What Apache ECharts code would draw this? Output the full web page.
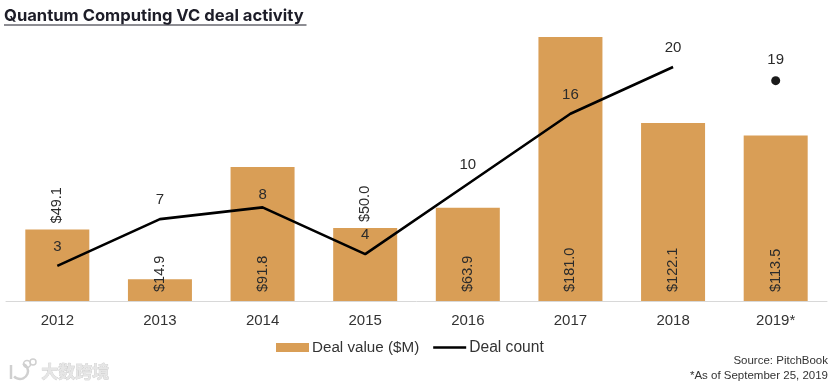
<!DOCTYPE html>
<html><head><meta charset="utf-8">
<style>html,body{margin:0;padding:0;background:#fff}#c{width:834px;height:387px}</style>
<script src="https://cdn.jsdelivr.net/npm/echarts@6/dist/echarts.min.js"></script>
</head><body><div id="c"></div>
<script>
const categories = ['2012','2013','2014','2015','2016','2017','2018','2019*'];
const dealValue = [49.1,14.9,91.8,50.0,63.9,181.0,122.1,113.5];
const dealCount = [3,7,8,4,10,16,20,null];
const dealCount2019 = [null,null,null,null,null,null,null,19];
const labelAboveBar = ['2012','2015'];
const FONT = '"Liberation Sans", Arial, sans-serif';
const chart = echarts.init(document.getElementById('c'), null, {renderer:'canvas'});
const barLabelBase = {show:true, rotate:90, align:'left', verticalAlign:'middle', fontFamily:FONT, fontSize:14.5, color:'#2b2b2b',
  formatter:p=>'$'+p.value.toFixed(1)};
chart.setOption({
  animation:false,
  backgroundColor:'#fff',
  title:{text:'Quantum Computing VC deal activity', left:4, top:7, padding:0,
    textStyle:{fontFamily:'Inter, "Liberation Sans", sans-serif', fontWeight:700, fontSize:16.6, color:'#1d1d28'}},
  legend:{left:276, top:339.5, itemGap:14, itemWidth:33, itemHeight:9, padding:0,
    data:[{name:'Deal value ($M)', icon:'rect'},
          {name:'Deal count', icon:'path://M0 0H0V9H0ZM0 3.2H33V5.8H0Z', itemStyle:{color:'#000'},
           textStyle:{fontFamily:FONT, fontSize:15.6, color:'#333', padding:[0,0,0,-2]}}],
    textStyle:{fontFamily:FONT, fontSize:15.2, color:'#333', padding:[0,0,0,-2]}},
  grid:{left:6, right:7, top:37, bottom:86},
  xAxis:{type:'category', data:categories,
    axisLine:{lineStyle:{color:'#d8d8d8', width:1}}, axisTick:{show:false},
    axisLabel:{fontFamily:FONT, fontSize:15, color:'#333', margin:12}},
  yAxis:[
    {type:'value', min:0, max:181, show:false, splitLine:{show:false}},
    {type:'value', min:0, max:22.56, show:false, splitLine:{show:false}}
  ],
  series:[
    {name:'Deal value ($M)', type:'bar', barWidth:64, yAxisIndex:0,
     itemStyle:{color:'#d99e56'},
     data:dealValue.map((v,i)=>({value:v, label:labelAboveBar.includes(categories[i])
        ? {...barLabelBase, position:'top', distance:6}
        : {...barLabelBase, position:'insideBottom', distance:9}}))},
    {name:'Deal count', type:'line', yAxisIndex:1, symbol:'circle', symbolSize:0, showSymbol:true,
     data:dealCount.map((v,i)=>categories[i]==='2014' ? {value:v, label:{distance:5}} : v),
     connectNulls:false, lineStyle:{color:'#000', width:2.6}, itemStyle:{color:'#000'},
     label:{show:true, position:'top', distance:11.5, fontFamily:FONT, fontSize:15, color:'#2b2b2b'}},
    {name:'Deal count 2019', type:'line', yAxisIndex:1, data:dealCount2019, symbol:'circle', symbolSize:9, showSymbol:true,
     symbolOffset:[0,2], lineStyle:{width:0}, itemStyle:{color:'#1a1a1a'},
     label:{show:true, position:'top', distance:9, fontFamily:FONT, fontSize:15, color:'#2b2b2b'}}
  ],
  graphic:[
    {type:'line', shape:{x1:4,y1:25,x2:306.5,y2:25}, style:{stroke:'#1d1d28', lineWidth:1.2}},
    {type:'text', right:6, top:355, style:{text:'Source: PitchBook', font:'11.5px '+FONT, fill:'#333', textAlign:'right'}},
    {type:'text', right:6, top:370, style:{text:'*As of September 25, 2019', font:'11.5px '+FONT, fill:'#333', textAlign:'right'}},
    {type:'text', left:41, top:363, style:{text:'大数跨境', font:'bold 17px "Noto Sans CJK SC"', fill:'#e6e6e6', stroke:'#c4c4c4', lineWidth:0.6}},
    {type:'circle', shape:{cx:27,cy:364,r:3.5}, style:{fill:'none', stroke:'#d0d0d0', lineWidth:1.5}},
    {type:'circle', shape:{cx:33,cy:362,r:3}, style:{fill:'none', stroke:'#d0d0d0', lineWidth:1.5}},
    {type:'arc', shape:{cx:20,cy:371,r:8,startAngle:-1.2,endAngle:2.4}, style:{fill:'none', stroke:'#d0d0d0', lineWidth:2.5}},
    {type:'line', shape:{x1:11,y1:365,x2:11,y2:379}, style:{stroke:'#d0d0d0', lineWidth:2.5}}
  ]
});
</script></body></html>
